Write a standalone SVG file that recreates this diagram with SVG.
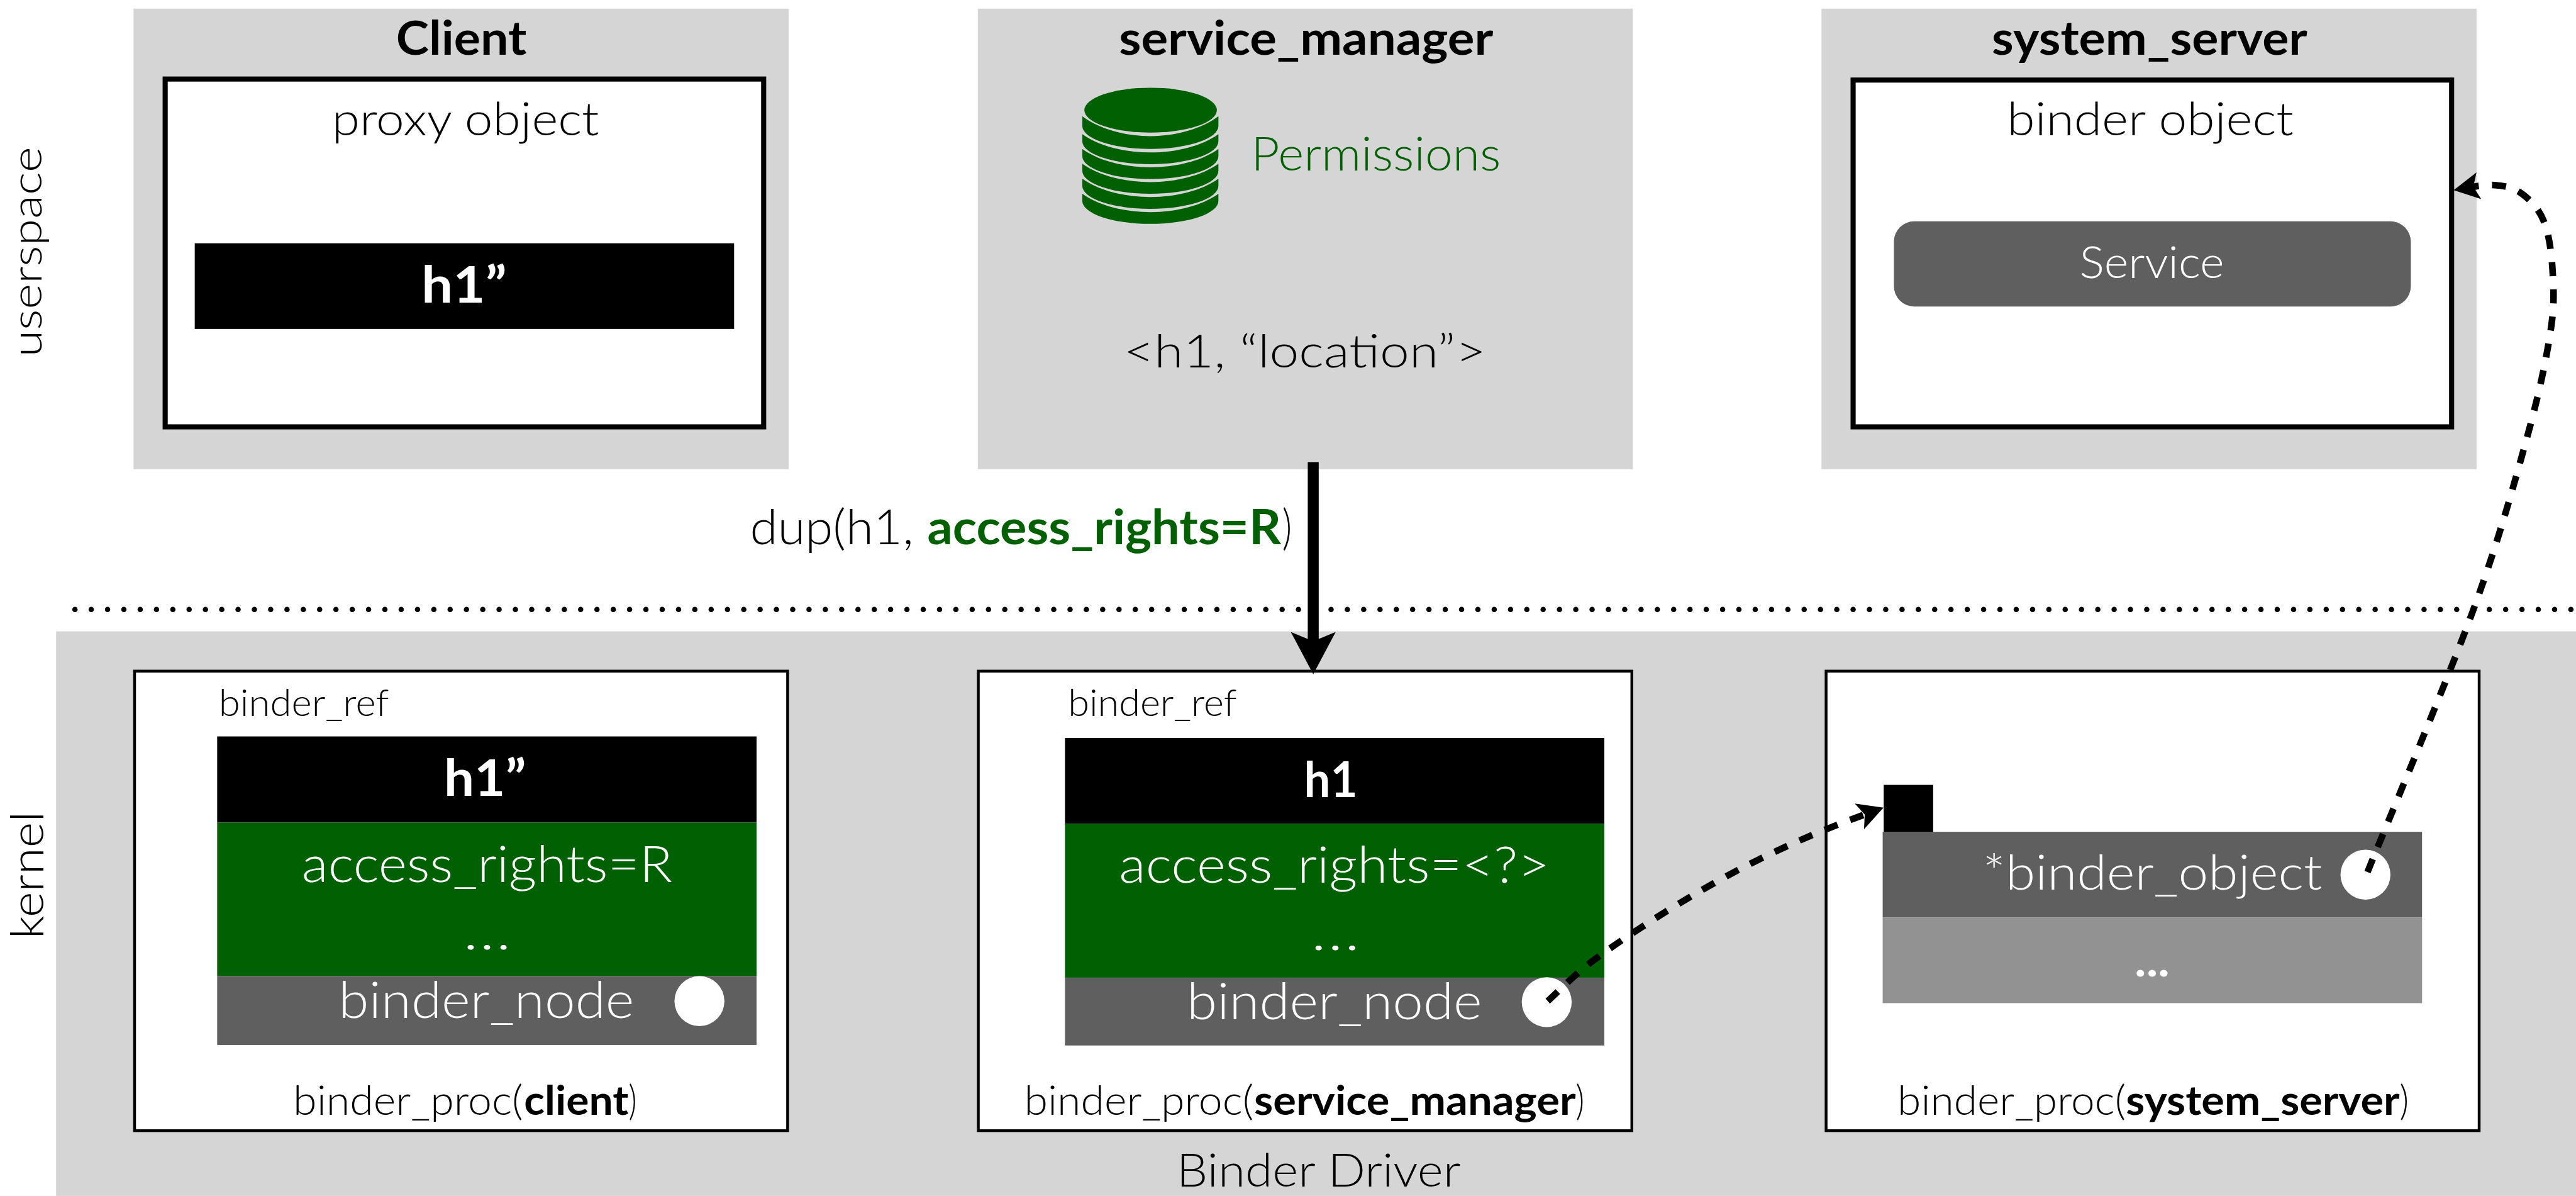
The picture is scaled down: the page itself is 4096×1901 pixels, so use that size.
<svg xmlns="http://www.w3.org/2000/svg" xmlns:xlink="http://www.w3.org/1999/xlink" width="4096" height="1901" viewBox="0 0 4096 1901">
<style>
text{font-family:Lato,"Liberation Sans",sans-serif;font-weight:300;fill:#000}
.b{font-weight:700}
.w{fill:#fff}
.g{fill:#016001}
.panel{fill:#d5d5d5}
.thick{fill:#fff;stroke:#000;stroke-width:10}
.thin{fill:#fff;stroke:#000;stroke-width:5.5}
.dash{fill:none;stroke:#000;stroke-width:13;stroke-dasharray:27.5 26;marker-end:url(#head)}
</style>
<defs>
<marker id="head" markerUnits="strokeWidth" markerWidth="5" markerHeight="5" refX="1.44" refY="0" orient="auto" overflow="visible" viewBox="0 -2.5 5 5">
<path d="M3.86 0L0 -2.05L.85 0L0 2.05Z" fill="#000"/>
</marker>
<path id="layer" class="g" d="M2123 263C2155 286 2205 299 2256.5 299C2308 299 2358 286 2390 263V277A133.5 45 0 0 1 2123 277Z"/>
</defs>
<rect width="4096" height="1901" fill="#fff"/>
<g transform="scale(.81061)">
<text transform="translate(81 700) rotate(-90)" font-size="82" textLength="412" lengthAdjust="spacingAndGlyphs">userspace</text>
<text transform="translate(85 1841) rotate(-90)" font-size="90" textLength="250" lengthAdjust="spacingAndGlyphs">kernel</text>

<g id="client">
<rect class="panel" x="262" y="17" width="1285" height="903"/>
<rect class="thick" x="324" y="155" width="1174" height="682"/>
<rect x="382" y="477" width="1058" height="168"/>
<text class="b" x="777" y="107" font-size="92" textLength="256" lengthAdjust="spacingAndGlyphs">Client</text>
<text x="651" y="265" font-size="90" textLength="524" lengthAdjust="spacingAndGlyphs">proxy object</text>
<text class="b w" x="827" y="593" font-size="100" textLength="167" lengthAdjust="spacingAndGlyphs">h1”</text>
</g>

<g id="service_manager">
<rect class="panel" x="1918" y="17" width="1285" height="903"/>
<text class="b" x="2195" y="107" font-size="92" textLength="734" lengthAdjust="spacingAndGlyphs">service_manager</text>
<ellipse class="g" cx="2257" cy="216" rx="130" ry="44"/>
<path class="g" d="M2123 228C2155 252 2205 267 2256.5 267C2308 267 2358 252 2390 228V247A133.5 45 0 0 1 2123 247Z"/>
<use xlink:href="#layer"/>
<use xlink:href="#layer" y="29"/>
<use xlink:href="#layer" y="58"/>
<use xlink:href="#layer" y="87.5"/>
<use xlink:href="#layer" y="117"/>
<text class="g" x="2454" y="334" font-size="92" textLength="490" lengthAdjust="spacingAndGlyphs">Permissions</text>
<text x="2204" y="721" font-size="90" textLength="711" lengthAdjust="spacingAndGlyphs">&lt;h1, “location”&gt;</text>
</g>

<g id="system_server">
<rect class="panel" x="3573" y="17" width="1285" height="903"/>
<rect class="thick" x="3635" y="157" width="1174" height="680"/>
<rect x="3715" y="434" width="1014" height="167" rx="40" fill="#5f5f5f"/>
<text class="b" x="3907" y="107" font-size="92" textLength="619" lengthAdjust="spacingAndGlyphs">system_server</text>
<text x="3937" y="265" font-size="90" textLength="562" lengthAdjust="spacingAndGlyphs">binder object</text>
<text class="w" x="4079" y="545" font-size="88" textLength="284" lengthAdjust="spacingAndGlyphs">Service</text>
</g>

<g id="kernel">
<rect class="panel" x="110" y="1238" width="4943" height="1107"/>
<text x="2308" y="2327" font-size="90" textLength="557" lengthAdjust="spacingAndGlyphs">Binder Driver</text>
</g>

<g id="binder_proc_client">
<rect class="thin" x="264" y="1316" width="1281" height="901"/>
<text x="429" y="1404" font-size="72" textLength="334" lengthAdjust="spacingAndGlyphs">binder_ref</text>
<rect x="426" y="1444" width="1058" height="169"/>
<rect class="g" x="426" y="1613" width="1058" height="301"/>
<rect x="426" y="1914" width="1058" height="135" fill="#5f5f5f"/>
<text class="b w" x="871" y="1561" font-size="100" textLength="161" lengthAdjust="spacingAndGlyphs">h1”</text>
<text class="w" x="592" y="1729" font-size="100" textLength="727" lengthAdjust="spacingAndGlyphs">access_rights=R</text>
<text class="w" x="908" y="1861" font-size="100" textLength="95" lengthAdjust="spacingAndGlyphs">…</text>
<text class="w" x="664" y="1996" font-size="100" textLength="580" lengthAdjust="spacingAndGlyphs">binder_node</text>
<circle cx="1372" cy="1963" r="49" fill="#fff"/>
<text y="2186" font-size="80"><tspan x="575" textLength="451" lengthAdjust="spacingAndGlyphs">binder_proc(</tspan><tspan class="b" x="1028" textLength="205" lengthAdjust="spacingAndGlyphs">client</tspan><tspan x="1233" textLength="16" lengthAdjust="spacingAndGlyphs">)</tspan></text>
</g>

<g id="binder_proc_service_manager">
<rect class="thin" x="1919" y="1316" width="1282" height="901"/>
<text x="2095" y="1404" font-size="72" textLength="331" lengthAdjust="spacingAndGlyphs">binder_ref</text>
<rect x="2089" y="1447" width="1058" height="168"/>
<rect class="g" x="2089" y="1615" width="1058" height="302"/>
<rect x="2089" y="1917" width="1058" height="133" fill="#5f5f5f"/>
<text class="b w" x="2558" y="1563" font-size="96" textLength="105" lengthAdjust="spacingAndGlyphs">h1</text>
<text class="w" x="2195" y="1731" font-size="100" textLength="845" lengthAdjust="spacingAndGlyphs">access_rights=&lt;?&gt;</text>
<text class="w" x="2571" y="1863" font-size="100" textLength="97" lengthAdjust="spacingAndGlyphs">…</text>
<text class="w" x="2328" y="1998" font-size="100" textLength="579" lengthAdjust="spacingAndGlyphs">binder_node</text>
<circle cx="3034" cy="1965" r="49" fill="#fff"/>
<text y="2186" font-size="80"><tspan x="2009" textLength="450" lengthAdjust="spacingAndGlyphs">binder_proc(</tspan><tspan class="b" x="2460" textLength="631" lengthAdjust="spacingAndGlyphs">service_manager</tspan><tspan x="3091" textLength="17" lengthAdjust="spacingAndGlyphs">)</tspan></text>
</g>

<g id="binder_proc_system_server">
<rect class="thin" x="3582" y="1316" width="1281" height="901"/>
<rect x="3695" y="1539" width="97" height="93"/>
<rect x="3693" y="1631" width="1058" height="168" fill="#5f5f5f"/>
<rect x="3693" y="1799" width="1058" height="168" fill="#929292"/>
<text class="w" x="3889" y="1744" font-size="95" textLength="666" lengthAdjust="spacingAndGlyphs">*binder_object</text>
<circle cx="4640" cy="1715" r="49" fill="#fff"/>
<text class="w b" x="4187" y="1914" font-size="90" textLength="69" lengthAdjust="spacingAndGlyphs">...</text>
<text y="2186" font-size="80"><tspan x="3722" textLength="448" lengthAdjust="spacingAndGlyphs">binder_proc(</tspan><tspan class="b" x="4170" textLength="537" lengthAdjust="spacingAndGlyphs">system_server</tspan><tspan x="4707" textLength="18" lengthAdjust="spacingAndGlyphs">)</tspan></text>
</g>

<g id="connectors">
<path d="M147 1195H5053" fill="none" stroke="#000" stroke-width="10.5" stroke-linecap="round" stroke-dasharray="0 32"/>
<path d="M2576 906V1270" fill="none" stroke="#000" stroke-width="21.5" marker-end="url(#head)"/>
<path class="dash" d="M3036 1963C3050.3 1950.2 3085.3 1914 3122 1886C3158.7 1858 3209.7 1824.2 3256 1795C3302.3 1765.8 3353.2 1736 3400 1711C3446.8 1686 3492.8 1664.4 3537 1645C3581.2 1625.6 3629 1607.5 3665 1594.5"/>
<path class="dash" d="M4644 1710C4678 1625 4798 1341.5 4850 1200C4902 1058.5 4930.5 952.7 4956 861C4981.5 769.3 4994.5 705 5003 650C5011.5 594.8 5009 566 5007 530C5004.8 494 5000 459 4990 434C4980 409 4963 391.8 4947 380C4931 368.2 4915.3 364.3 4893 363C4877 362 4860 364.7 4844 367.5"/>
<text y="1067" font-size="94"><tspan x="1471" textLength="321" lengthAdjust="spacingAndGlyphs">dup(h1,</tspan><tspan class="b g" x="1819" textLength="694" lengthAdjust="spacingAndGlyphs">access_rights=R</tspan><tspan x="2515" textLength="19" lengthAdjust="spacingAndGlyphs">)</tspan></text>
</g>
</g>
</svg>
